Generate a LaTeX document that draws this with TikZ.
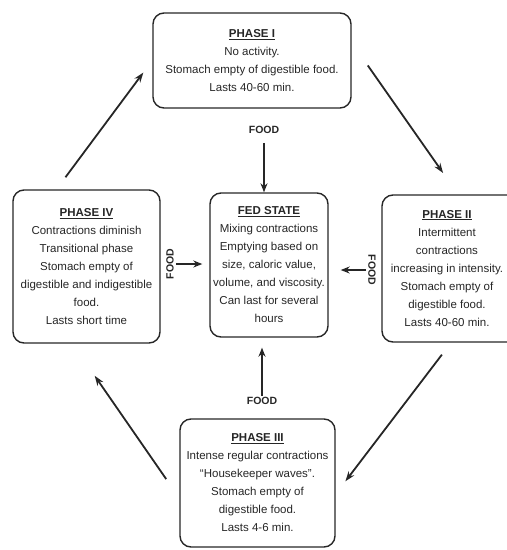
\documentclass[tikz,border=0pt]{standalone}
\usepackage{fontspec}
\setmainfont{Liberation Sans}
\usetikzlibrary{arrows.meta}
\begin{document}
\begin{tikzpicture}[x=1pt,y=-1pt,
  box/.style={draw=black!85, line width=1.4pt, rounded corners=11pt, align=center,
    inner sep=2pt, text=black!85, font=\fontsize{11.5}{18}\selectfont},
  foodlbl/.style={font=\bfseries\fontsize{10.5}{12}\selectfont, inner sep=1pt, text=black!85},
  arr/.style={draw=black!85, line width=1.8pt, -{Stealth[length=10pt,width=7pt]}},
  farr/.style={draw=black!85, line width=1.3pt, -{Stealth[length=9pt,width=7pt]}}]
\useasboundingbox (0,0) rectangle (507,550);

\node[box, minimum width=198pt, minimum height=95pt] (p1) at (252,60.5)
  {\underline{\textbf{PHASE I}}\\No activity.\\Stomach empty of digestible food.\\Lasts 40-60 min.};
\node[box, minimum width=147pt, minimum height=153pt] (p4) at (86.5,266.5)
  {\underline{\textbf{PHASE IV}}\\Contractions diminish\\Transitional phase\\Stomach empty of\\digestible and indigestible\\food.\\Lasts short time};
\node[box, minimum width=118pt, minimum height=144pt] (fed) at (269,265)
  {\underline{\textbf{FED STATE}}\\Mixing contractions\\Emptying based on\\size, caloric value,\\volume, and viscosity.\\Can last for several\\hours};
\node[box, align=none, minimum width=146pt, minimum height=147pt] (p2) at (455,268.5)
  {\begin{tabular}{@{}c@{}}\underline{\textbf{PHASE II}}\\Intermittent\\contractions\\increasing in intensity.\\Stomach empty of\\digestible food.\\Lasts 40-60 min.\end{tabular}\hspace*{16pt}};
\node[box, minimum width=155pt, minimum height=128pt] (p3) at (257.5,483)
  {\underline{\textbf{PHASE III}}\\Intense regular contractions\\``Housekeeper waves''.\\Stomach empty of\\digestible food.\\Lasts 4-6 min.};

\node[foodlbl] (foodT) at (264,130) {FOOD};
\node[foodlbl] (foodB) at (262,401) {FOOD};
\node[foodlbl, rotate=90] (foodL) at (170,264) {FOOD};
\node[foodlbl, rotate=-90] (foodR) at (372,270) {FOOD};

% cycle arrows
\draw[arr, shorten <=28pt, shorten >=26pt] ([yshift=18pt]p1.east) -- ([xshift=3pt]p2.north);
\draw[arr, shorten <=15pt, shorten >=16pt] ([xshift=-4pt]p2.south) -- ([yshift=-11pt]p3.east);
\draw[arr, shorten <=23pt, shorten >=39pt] ([yshift=-15pt]p3.west) -- ([xshift=-14pt]p4.south);
\draw[arr, shorten <=15pt, shorten >=15pt] ([xshift=-30pt]p4.north) -- (p1.west);

% food arrows
\draw[farr, shorten <=8pt] (foodT.south) -- (foodT.south |- fed.north);
\draw[farr, shorten >=10pt] (foodB.north) -- (foodB.north |- fed.south);
\draw[farr, shorten <=1pt, shorten >=7pt] (foodL.south) -- (foodL.south -| fed.west);
\draw[farr, shorten <=1pt, shorten >=12pt] (foodR.south) -- (foodR.south -| fed.east);
\end{tikzpicture}
\end{document}
